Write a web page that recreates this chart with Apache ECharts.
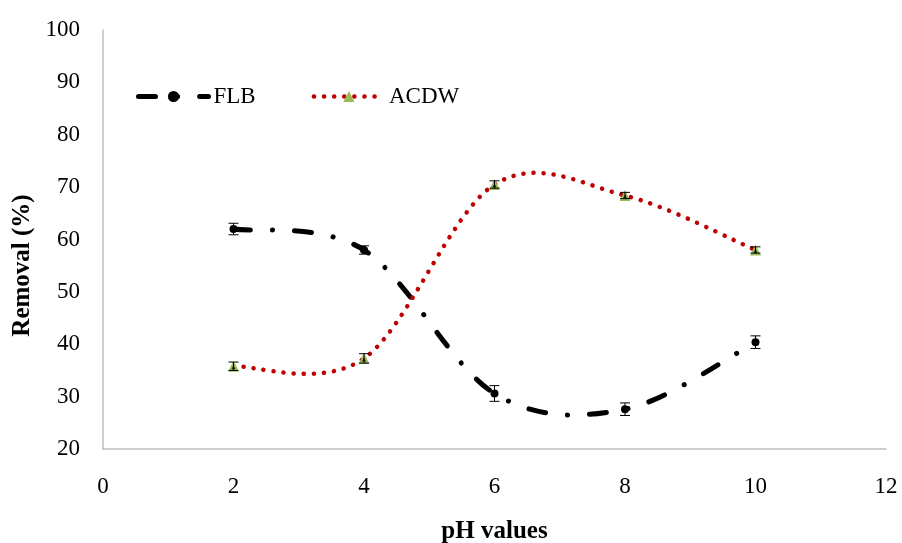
<!DOCTYPE html>
<html>
<head>
<meta charset="utf-8">
<script src="https://cdn.jsdelivr.net/npm/echarts@6/dist/echarts.min.js"></script>
<style>
  html, body { margin: 0; padding: 0; background: #fff; }
  #chart { width: 902px; height: 543px; }
</style>
</head>
<body>
<div id="chart"></div>
<script>
// pH values on x
const phValues = [2, 4, 6, 8, 10];
// removal (%) for each adsorbent
const flbValues = [62.0, 58.0, 30.6, 27.6, 40.4];
const acdwValues = [35.8, 37.3, 70.5, 68.4, 58.0];
// error bar half-heights
const flbErr = [1.1, 0.8, 1.5, 1.2, 1.2];
const acdwErr = [0.8, 0.9, 0.7, 0.6, 0.6];

const font = 'Liberation Serif';
const flbLine = { color: '#000', width: 5, type: [17, 22, 0.1, 22], cap: 'round', opacity: 1 };
const acdwLine = { color: '#c00000', width: 4.5, type: [0.1, 10], cap: 'round', opacity: 1 };

const chart = echarts.init(document.getElementById('chart'));

function pairs(xs, ys) {
  return xs.map((x, i) => [x, ys[i]]);
}
function errData(xs, ys, es) {
  return xs.map((x, i) => [x, ys[i] - es[i], ys[i] + es[i]]);
}
// draws vertical error bar with caps
function renderErr(params, api) {
  const x = api.value(0);
  const lo = api.coord([x, api.value(1)]);
  const hi = api.coord([x, api.value(2)]);
  const w = 5;
  const style = { stroke: '#000', lineWidth: 1 };
  return {
    type: 'group',
    children: [
      { type: 'line', shape: { x1: lo[0], y1: lo[1], x2: hi[0], y2: hi[1] }, style: style },
      { type: 'line', shape: { x1: lo[0] - w, y1: lo[1], x2: lo[0] + w, y2: lo[1] }, style: style },
      { type: 'line', shape: { x1: hi[0] - w, y1: hi[1], x2: hi[0] + w, y2: hi[1] }, style: style }
    ]
  };
}
// spreadsheet-style smoothed line (cardinal bezier, tension 1/6) through all points
function smoothRenderer(ys, lineStyle) {
  return function (params, api) {
    if (params.dataIndex !== 0) return null;
    const pts = phValues.map((x, i) => api.coord([x, ys[i]]));
    let d = 'M' + pts[0][0] + ' ' + pts[0][1];
    for (let i = 0; i < pts.length - 1; i++) {
      const p0 = pts[i - 1] || pts[i];
      const p1 = pts[i];
      const p2 = pts[i + 1];
      const p3 = pts[i + 2] || pts[i + 1];
      const c1x = p1[0] + (p2[0] - p0[0]) / 6;
      const c1y = p1[1] + (p2[1] - p0[1]) / 6;
      const c2x = p2[0] - (p3[0] - p1[0]) / 6;
      const c2y = p2[1] - (p3[1] - p1[1]) / 6;
      d += ' C' + c1x + ' ' + c1y + ' ' + c2x + ' ' + c2y + ' ' + p2[0] + ' ' + p2[1];
    }
    return {
      type: 'path',
      shape: { pathData: d },
      style: {
        fill: 'none',
        stroke: lineStyle.color,
        lineWidth: lineStyle.width,
        lineDash: lineStyle.type,
        lineCap: 'round'
      }
    };
  };
}

const option = {
  animation: false,
  backgroundColor: '#fff',
  textStyle: { fontFamily: font },
  grid: { left: 103, right: 16, top: 30, bottom: 94, outerBoundsMode: 'none', containLabel: false },
  legend: {
    left: 131,
    top: 80,
    itemWidth: 70,
    itemHeight: 14,
    itemGap: 56,
    textStyle: { fontFamily: font, fontSize: 23, color: '#000' },
    data: [
      { name: 'FLB', lineStyle: flbLine },
      { name: 'ACDW', lineStyle: acdwLine }
    ]
  },
  xAxis: {
    type: 'value',
    min: 0, max: 12, interval: 2,
    name: 'pH values',
    nameLocation: 'middle',
    nameGap: 70,
    nameTextStyle: { fontFamily: font, fontSize: 25, fontWeight: 'bold', color: '#000' },
    axisLine: { lineStyle: { color: '#bfbfbf', width: 1.5 } },
    axisTick: { show: false },
    axisLabel: { color: '#000', fontSize: 23, fontFamily: font, margin: 26 },
    splitLine: { show: false }
  },
  yAxis: {
    type: 'value',
    min: 20, max: 100, interval: 10,
    name: 'Removal (%)',
    nameLocation: 'middle',
    nameGap: 61,
    nameTextStyle: {
      fontFamily: font, fontSize: 25, fontWeight: 'bold', color: '#000',
      padding: [0, 52, 0, 0]
    },
    axisLine: { show: true, lineStyle: { color: '#bfbfbf', width: 1.5 } },
    axisTick: { show: false },
    axisLabel: { color: '#000', fontSize: 23, fontFamily: font, margin: 23 },
    splitLine: { show: false }
  },
  series: [
    {
      name: 'FLB curve',
      type: 'custom',
      renderItem: smoothRenderer(flbValues, flbLine),
      data: pairs(phValues, flbValues),
      z: 2
    },
    {
      name: 'ACDW curve',
      type: 'custom',
      renderItem: smoothRenderer(acdwValues, acdwLine),
      data: pairs(phValues, acdwValues),
      z: 2
    },
    {
      name: 'FLB',
      type: 'line',
      data: pairs(phValues, flbValues),
      symbol: 'circle',
      symbolSize: 8,
      itemStyle: { color: '#000' },
      lineStyle: { opacity: 0 },
      z: 3
    },
    {
      name: 'ACDW',
      type: 'line',
      data: pairs(phValues, acdwValues),
      symbol: 'triangle',
      symbolSize: 11,
      itemStyle: { color: '#9bbb59' },
      lineStyle: { opacity: 0 },
      z: 3
    },
    {
      name: 'ACDW inner',
      type: 'scatter',
      data: pairs(phValues, acdwValues),
      symbol: 'triangle',
      symbolSize: 4,
      symbolOffset: [0, 1],
      itemStyle: { color: '#000' },
      z: 5
    },
    {
      name: 'FLB err',
      type: 'custom',
      renderItem: renderErr,
      data: errData(phValues, flbValues, flbErr),
      z: 4
    },
    {
      name: 'ACDW err',
      type: 'custom',
      renderItem: renderErr,
      data: errData(phValues, acdwValues, acdwErr),
      z: 4
    }
  ]
};

chart.setOption(option);
window.addEventListener('resize', function () {
  chart.resize();
});
</script>
</body>
</html>
